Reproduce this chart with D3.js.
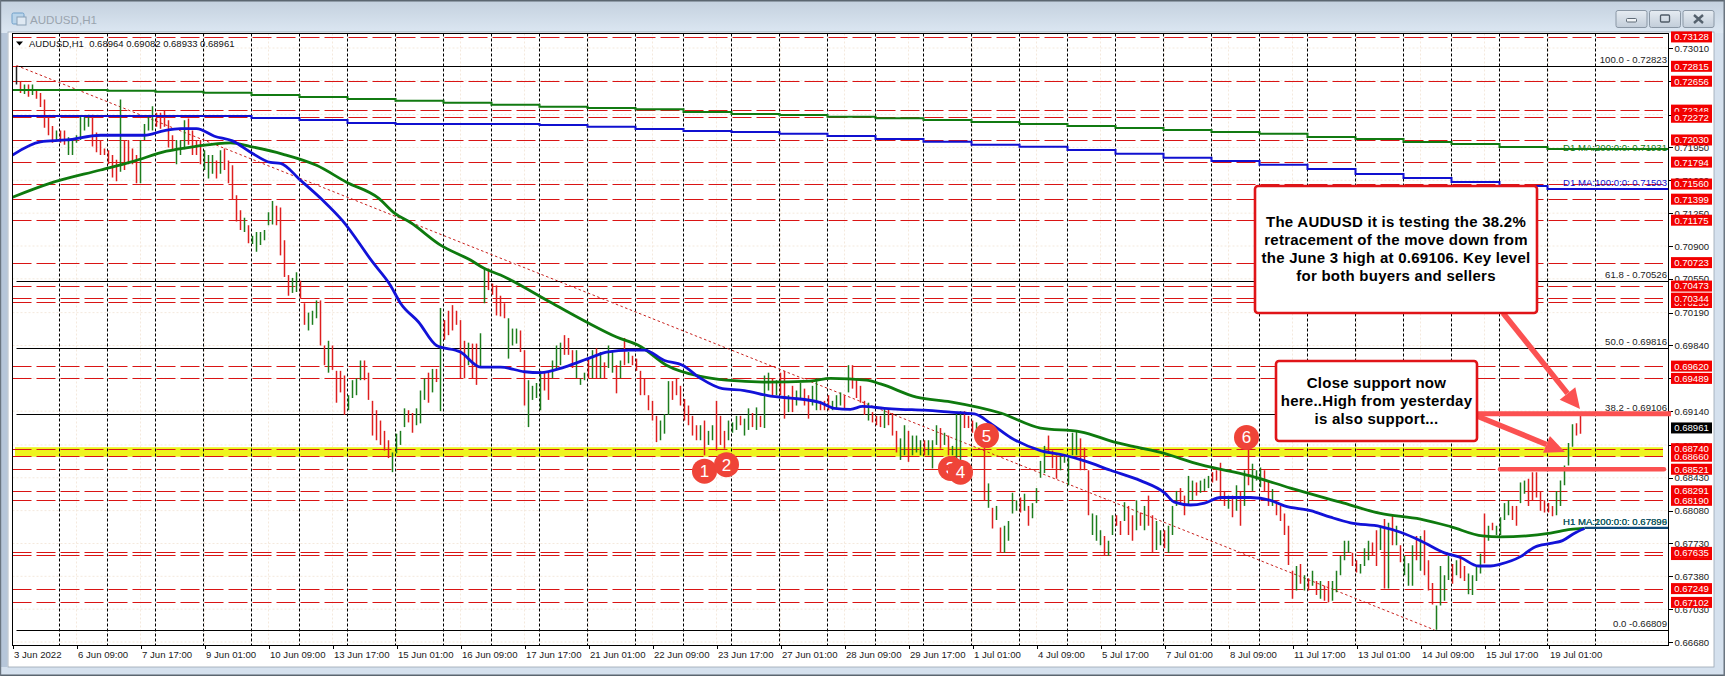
<!DOCTYPE html>
<html><head><meta charset="utf-8"><title>AUDUSD,H1</title>
<script src="https://cdn.jsdelivr.net/npm/d3@7/dist/d3.min.js"></script>
<style>
html,body{margin:0;padding:0;background:#d7e2ee;overflow:hidden}
svg{display:block}
text{font-family:"Liberation Sans",Arial,sans-serif}
.ax text{font-size:9.6px;fill:#1a1a1a;font-family:"Liberation Sans",Arial,sans-serif}
.ax line,.ax path{stroke:#000;shape-rendering:crispEdges}
</style></head><body>
<svg id="c" width="1725" height="676"></svg>
<script>
// ---- data: prices are written in units of 0.0001, bars are one every two hours ----
const barHighs=[
7281,7265,7262,7262,7262,7256,7253,7246,7229,7218,7213,7213,7213,7206,7205,7208,7229,7229,7230,7230,
7211,7203,7194,7192,7187,7182,7246,7203,7203,7194,7187,7203,7220,7229,7239,7232,7232,7234,7224,7208,
7203,7203,7224,7226,7213,7203,7203,7192,7187,7187,7181,7192,7194,7181,7176,7144,7128,7120,7112,7101,
7105,7105,7107,7126,7138,7133,7131,7096,7059,7056,7062,7053,7029,7019,7021,7032,7032,6984,6989,6984,
6957,6957,6952,6931,6947,6949,6968,6968,6955,6925,6915,6904,6893,6883,6870,6890,6893,6917,6915,6912,
6917,6936,6949,6955,6959,6959,7024,7011,7021,7027,7021,7011,6989,6987,6986,6986,6997,7067,7066,7050,
7048,7037,7029,7013,7002,7002,7000,6979,6947,6941,6944,6957,6955,6955,6968,6984,6987,6995,6992,6979,
6979,6949,6955,6970,6979,6981,6977,6966,6984,6977,6963,6968,6992,6977,6973,6970,6957,6949,6931,6925,
6909,6904,6911,6946,6946,6949,6941,6927,6920,6909,6899,6899,6904,6893,6899,6925,6909,6893,6904,6902,
6909,6909,6906,6917,6912,6918,6909,6952,6955,6949,6947,6955,6957,6931,6941,6936,6944,6938,6931,6941,
6949,6925,6925,6931,6925,6931,6934,6931,6963,6963,6949,6941,6925,6923,6913,6909,6909,6917,6917,6912,
6893,6885,6899,6893,6888,6888,6883,6883,6883,6883,6899,6896,6891,6888,6877,6912,6914,6914,6909,6904,
6902,6893,6875,6837,6811,6813,6790,6792,6797,6827,6819,6822,6826,6813,6816,6832,6861,6877,6888,6872,
6867,6867,6867,6867,6891,6893,6885,6875,6851,6805,6803,6787,6781,6776,6803,6803,6797,6817,6813,6803,
6819,6806,6813,6824,6803,6797,6787,6787,6792,6813,6829,6832,6824,6845,6840,6838,6840,6842,6845,6849,
6851,6859,6829,6824,6824,6835,6829,6851,6879,6858,6851,6854,6851,6840,6831,6819,6813,6805,6792,6744,
6749,6751,6739,6736,6744,6733,6733,6728,6733,6733,6744,6760,6776,6776,6763,6755,6751,6768,6776,6774,
6787,6792,6799,6795,6803,6792,6771,6760,6752,6771,6781,6781,6787,6755,6731,6707,6749,6739,6760,6751,
6755,6760,6749,6741,6739,6749,6762,6805,6792,6795,6792,6801,6816,6819,6813,6813,6838,6840,6842,6849,
6849,6829,6819,6816,6813,6829,6840,6856,6880,6900,6901,6909];
const barLows=[
7262,7253,7252,7249,7251,7247,7238,7216,7208,7200,7203,7200,7198,7187,7187,7200,7203,7213,7217,7196,
7190,7187,7187,7177,7163,7159,7169,7171,7177,7177,7157,7157,7203,7213,7213,7217,7215,7217,7195,7193,
7177,7187,7193,7198,7187,7187,7177,7171,7162,7167,7162,7167,7171,7157,7139,7116,7107,7105,7093,7092,
7084,7091,7096,7112,7113,7112,7080,7057,7037,7040,7041,7034,7006,7000,7006,7013,6984,6963,6955,6958,
6923,6934,6910,6915,6928,6931,6947,6947,6926,6888,6883,6878,6872,6864,6849,6869,6878,6897,6902,6891,
6899,6901,6926,6923,6934,6945,6914,6990,6995,7000,7006,6949,6949,6963,6949,6942,6961,7029,7043,7038,
7016,7015,7013,6970,6984,6986,6977,6920,6897,6926,6928,6915,6936,6926,6949,6958,6963,6974,6974,6960,
6949,6942,6947,6949,6949,6949,6949,6949,6960,6955,6933,6949,6963,6965,6963,6957,6931,6931,6915,6904,
6881,6883,6890,6910,6926,6931,6920,6904,6899,6888,6883,6883,6867,6878,6883,6872,6878,6874,6883,6891,
6894,6899,6888,6894,6897,6894,6897,6896,6936,6931,6931,6931,6906,6913,6913,6920,6928,6920,6906,6920,
6915,6915,6915,6915,6915,6917,6920,6917,6934,6938,6928,6923,6910,6904,6902,6899,6897,6896,6899,6888,
6870,6862,6867,6860,6867,6870,6867,6867,6867,6853,6878,6874,6878,6867,6867,6864,6856,6896,6896,6891,
6891,6878,6819,6811,6789,6798,6763,6763,6776,6805,6808,6806,6808,6792,6800,6816,6843,6848,6869,6853,
6842,6851,6859,6835,6867,6867,6851,6851,6803,6782,6776,6771,6760,6760,6782,6792,6782,6797,6782,6776,
6787,6792,6787,6792,6763,6766,6771,6768,6763,6782,6813,6815,6803,6813,6819,6824,6827,6829,6832,6838,
6840,6819,6813,6810,6801,6808,6792,6813,6835,6829,6840,6833,6829,6813,6813,6803,6797,6782,6750,6714,
6723,6730,6723,6723,6728,6718,6714,6712,6710,6712,6721,6739,6755,6763,6749,6742,6741,6749,6755,6760,
6749,6766,6725,6725,6771,6771,6753,6739,6728,6728,6755,6744,6739,6723,6708,6681,6707,6712,6734,6730,
6739,6736,6733,6719,6718,6733,6741,6752,6776,6787,6782,6782,6798,6803,6798,6792,6816,6826,6813,6819,
6822,6808,6806,6806,6802,6803,6813,6835,6856,6876,6888,6890];
// k = first bar, g = up bar, r = down bar
const barDirs=
"krgrgrrrrrgrrggggggr"+"rrrrrrgrrrrggggrrrrr"+"gggrrrrgggrgrrrrrgrg"+"gggggrrrrggrrgggrrgr"+
"rrrggggrrrrrrrggggrr"+"gggrgrgrrrrrrgrrggrr"+"rrrgggrrggggrrgggrrr"+"gggrgrgrggrgrgrrrrrr"+
"rgggrrrrrrrgrggrrrgg"+"grggrgrggrgrrgrggrrg"+"grrrgggrgrrrrgrrrgrr"+"rggrgggrgggrgrgggrrr"+
"grrgrgrggggrgrggggrr"+"rgggggrrrgggrggrrgrr"+"grgrrggrgggrrggrgggr"+"rrrgrgrgrgggrrgrrrrr"+
"grgrgrgrrgggggrrgggr"+"rgrgrgrgggrgrrrggggr"+"grrggggrgrggggrrggrr"+"rrrrrgggggrr";
const maHours=[0,19,44,60,77,91,109,119,135,152,167,183,191,199,214,229,236,244,269,287,302,314,327,344,357,377,399,409,427,434,452,469,494,514,534,551,574,594,619,639,664,684,704,719,735,744,769,779,786];
const ma200H1=[7142,7157,7171,7180,7191,7196,7200,7196,7188,7176,7158,7141,7125,7115,7091,7075,7066,7059,7030,7009,6993,6983,6963,6951,6947,6945,6946,6949,6947,6943,6929,6924,6912,6896,6892,6881,6870,6857,6845,6832,6817,6805,6799,6791,6781,6780,6784,6788,6789];
const ma100Hours=[0,14,27,44,59,66,76,84,92,101,110,119,129,134,144,155,165,180,189,194,203,212,224,234,244,256,264,276,289,297,309,316,326,335,344,355,366,379,389,404,411,419,425,436,444,456,469,481,489,499,514,526,536,549,564,576,581,589,596,604,619,629,636,649,659,669,684,694,704,716,724,733,739,744,754,761,769,775,781,786];
const ma100H1=[7187,7201,7203,7208,7208,7208,7213,7215,7215,7207,7202,7190,7179,7178,7160,7139,7117,7073,7048,7029,7009,6984,6977,6961,6961,6956,6955,6961,6971,6977,6979,6979,6968,6963,6949,6938,6936,6930,6928,6923,6917,6916,6919,6917,6916,6915,6913,6911,6901,6886,6872,6867,6861,6851,6840,6827,6817,6814,6816,6822,6822,6819,6813,6808,6801,6795,6791,6785,6776,6763,6758,6749,6749,6751,6759,6769,6773,6776,6784,6789];
const d1Hours=[0,23.5,47.5,71.5,95.5,119.5,143.5,167.5,191.5,215.5,239.5,263.5,287.5,311.5,335.5,359.5,383.5,407.5,431.5,455.5,479.5,503.5,527.5,551.5,575.5,599.5,623.5,647.5,671.5,695.5,719.5,743.5,767.5,828];
const d1Ma200=[7256.2,7256.2,7255.5,7254.4,7253.4,7250.9,7248.8,7246.7,7244.8,7242.7,7240.6,7238.4,7237,7235.7,7232.8,7230.7,7229.6,7227.8,7226.1,7224.3,7222.1,7220,7217.9,7215.8,7213.6,7211.5,7209.7,7206.2,7204,7200.8,7198.7,7195.5,7193.4,7193.4];
const d1Ma100=[7228.5,7228.5,7228.5,7228.5,7228.5,7226.4,7224.3,7221,7220,7220,7220,7218.9,7217.1,7214.7,7212.6,7211.5,7209.7,7207.2,7204,7201.2,7198,7195.8,7192.3,7188.4,7184.1,7180.6,7176.6,7172,7166.7,7162.5,7158.2,7154,7150.8,7150.8];
const levels=[0.73128,0.72815,0.72656,0.72348,0.72272,0.72030,0.71794,0.71560,0.71399,0.71175,0.70723,0.70298,0.70473,0.70344,0.69620,0.69489,0.68660,0.68740,0.68521,0.68291,0.68190,0.67612,0.67635,0.67249,0.67102];
const yellowBand=[0.68740,0.68660];
const fibLevels=[0.72823,0.70526,0.69816,0.69106,0.66809];
const fibLabels=["100.0 - 0.72823","61.8 - 0.70526","50.0 - 0.69816","38.2 - 0.69106","0.0 -0.66809"];
const yTicks=[0.73010,0.72660,0.72300,0.71950,0.71600,0.71250,0.70900,0.70550,0.70190,0.69840,0.69490,0.69140,0.68780,0.68430,0.68080,0.67730,0.67380,0.67030,0.66680];
const xLabels=["3 Jun 2022","6 Jun 09:00","7 Jun 17:00","9 Jun 01:00","10 Jun 09:00","13 Jun 17:00","15 Jun 01:00","16 Jun 09:00","17 Jun 17:00","21 Jun 01:00","22 Jun 09:00","23 Jun 17:00","27 Jun 01:00","28 Jun 09:00","29 Jun 17:00","1 Jul 01:00","4 Jul 09:00","5 Jul 17:00","7 Jul 01:00","8 Jul 09:00","11 Jul 17:00","13 Jul 01:00","14 Jul 09:00","15 Jul 17:00","19 Jul 01:00"];
const lastPrice=0.68961;
const trendHours=[2,711];
const trendPrices=[0.72823,0.66809];
const markerNames=["3","1","2","4","5","6"];
const markerHours=[469,346,357,474,487,617];
const markerPrices=[0.68530,0.68500,0.68570,0.68490,0.68880,0.68860];
const callout1=["The AUDUSD it is testing the 38.2%","retracement of the move down from","the June 3 high at 0.69106. Key level","for both buyers and sellers"];
const callout2=["Close support now","here..High from yesterday","is also support..."];
const legendText="AUDUSD,H1  0.68964 0.69082 0.68933 0.68961";

// ---- layout ----
const svg=d3.select("#c");
const L=12.5,R=1668.5,T=33.5,B=645.5;
const x=d3.scaleLinear().domain([0,828]).range([L,R]);
const y=d3.scaleLinear().domain([0.7301,0.6668]).range([48,642]);

// window chrome
const defs=svg.append("defs");
const g1=defs.append("linearGradient").attr("id","tb").attr("x1",0).attr("x2",0).attr("y1",0).attr("y2",1);
g1.append("stop").attr("offset",0).attr("stop-color","#c3d0de");
g1.append("stop").attr("offset",1).attr("stop-color","#dce7f2");
const g2=defs.append("linearGradient").attr("id","bt").attr("x1",0).attr("x2",0).attr("y1",0).attr("y2",1);
g2.append("stop").attr("offset",0).attr("stop-color","#e6ecf2");
g2.append("stop").attr("offset",1).attr("stop-color","#c2cdd9");
const clip=defs.append("clipPath").attr("id","plot");
clip.append("rect").attr("x",L).attr("y",T).attr("width",R-L).attr("height",B-T);
svg.append("rect").attr("width",1725).attr("height",676).attr("fill","#d5e1ee");
svg.append("rect").attr("width",1725).attr("height",33).attr("fill","url(#tb)");
svg.append("rect").attr("x",0).attr("y",33).attr("width",7).attr("height",634).attr("fill","#b6c6d9");
svg.append("rect").attr("x",0).attr("y",0).attr("width",1725).attr("height",1.5).attr("fill","#5b6670");
svg.append("rect").attr("x",0).attr("y",674.5).attr("width",1725).attr("height",1.5).attr("fill","#5b6670");
svg.append("rect").attr("x",1723.5).attr("y",0).attr("width",1.5).attr("height",676).attr("fill","#6a7580");
svg.append("rect").attr("x",0).attr("y",0).attr("width",1.2).attr("height",676).attr("fill","#6a7580");
svg.append("rect").attr("x",8).attr("y",32).attr("width",1706).attr("height",635).attr("fill","#fff").attr("stroke","#9aa6b2").attr("stroke-width",.8);
// title bar
const ic=svg.append("g");
ic.append("rect").attr("x",12).attr("y",13).attr("width",12).attr("height",11).attr("rx",1.5).attr("fill","#b9d4ea").attr("stroke","#6f9fc9");
ic.append("rect").attr("x",17).attr("y",17).attr("width",9).attr("height",8).attr("fill","#dfe9f3").attr("stroke","#8aa0b5");
svg.append("text").attr("x",30).attr("y",23.5).attr("font-size",11.6).attr("fill","#9aa4ae").text("AUDUSD,H1");
[1616,1649.5,1683].forEach((bx,i)=>{
  svg.append("rect").attr("x",bx).attr("y",10.5).attr("width",31).attr("height",17).attr("rx",2).attr("fill","url(#bt)").attr("stroke","#8a97a5");
  const cx=bx+15.5;
  if(i===0) svg.append("rect").attr("x",cx-5).attr("y",18.5).attr("width",10).attr("height",3.5).attr("rx",1).attr("fill","#f2f5f8").attr("stroke","#5f6b77");
  if(i===1) svg.append("rect").attr("x",cx-4.5).attr("y",15).attr("width",9).attr("height",7).attr("rx",1).attr("fill","none").attr("stroke","#4f5b67").attr("stroke-width",1.3);
  if(i===2) svg.append("path").attr("d",`M${cx-4.5},15L${cx+4.5},23M${cx+4.5},15L${cx-4.5},23`).attr("stroke","#55616d").attr("stroke-width",2.4);
});

// plot content
const plot=svg.append("g").attr("clip-path","url(#plot)");
// pale grid
yTicks.forEach(v=>plot.append("line").attr("x1",L).attr("x2",R).attr("y1",y(v)).attr("y2",y(v)).attr("stroke","#f4e9dd").attr("stroke-dasharray","2,2"));
xLabels.forEach((_,i)=>plot.append("line").attr("x1",x(32*i)).attr("x2",x(32*i)).attr("y1",T).attr("y2",B).attr("stroke","#f4e9dd").attr("stroke-dasharray","2,2"));
// yellow band
plot.append("rect").attr("x",15).attr("width",1663-15).attr("y",y(yellowBand[0])-1.5).attr("height",y(yellowBand[1])-y(yellowBand[0])+2).attr("fill","#eef41e");
// level lines
plot.selectAll("line.lv").data(levels).join("line").attr("class","lv")
  .attr("x1",L).attr("x2",1663).attr("y1",d=>Math.round(y(d))+.5).attr("y2",d=>Math.round(y(d))+.5)
  .attr("stroke","#d91414").attr("stroke-width",1.1).attr("stroke-dasharray","19,5");
// fibonacci lines
plot.selectAll("line.fb").data(fibLevels).join("line").attr("class","fb")
  .attr("x1",x(trendHours[0])).attr("x2",R).attr("y1",d=>Math.round(y(d))+.5).attr("y2",d=>Math.round(y(d))+.5)
  .attr("stroke","#000").attr("stroke-width",1);
// vertical grid
d3.range(33).forEach(k=>{const h=23.5+24*k;
  plot.append("line").attr("x1",x(h)).attr("x2",x(h)).attr("y1",T).attr("y2",B).attr("stroke","#000").attr("stroke-dasharray","3,2");});
// trend line
plot.append("line").attr("x1",x(trendHours[0])).attr("y1",y(trendPrices[0])).attr("x2",x(trendHours[1])).attr("y2",y(trendPrices[1]))
  .attr("stroke","#c8201c").attr("stroke-width",1).attr("stroke-dasharray","2.5,2.5");
// bars
const barColor={g:"#1d7d1d",r:"#de1f1f",k:"#222"};
plot.selectAll("line.bar").data(barHighs).join("line").attr("class","bar")
  .attr("x1",(d,i)=>x(2+2*i)).attr("x2",(d,i)=>x(2+2*i))
  .attr("y1",d=>y(d/1e4)).attr("y2",(d,i)=>y(barLows[i]/1e4))
  .attr("stroke",(d,i)=>barColor[barDirs[i]]).attr("stroke-width",1.5);
// moving averages
const pathH=(hs,vs,curve)=>d3.line().x((d,i)=>x(hs[i])).y(d=>y(d/1e4)).curve(curve||d3.curveLinear)(vs);
plot.append("path").attr("d",pathH(d1Hours,d1Ma200,d3.curveStepAfter)).attr("fill","none").attr("stroke","#117a11").attr("stroke-width",2);
plot.append("path").attr("d",pathH(d1Hours,d1Ma100,d3.curveStepAfter)).attr("fill","none").attr("stroke","#1010d0").attr("stroke-width",2);
plot.append("path").attr("d",pathH(maHours,ma200H1,d3.curveMonotoneX)).attr("fill","none").attr("stroke","#0e7a0e").attr("stroke-width",2.8);
plot.append("path").attr("d",pathH(ma100Hours,ma100H1,d3.curveMonotoneX)).attr("fill","none").attr("stroke","#1212d8").attr("stroke-width",2.8);
plot.append("line").attr("x1",x(786)).attr("x2",R).attr("y1",y(0.67896)).attr("y2",y(0.67896)).attr("stroke","#0f4a78").attr("stroke-width",2.2);
// fib and MA texts
plot.selectAll("text.ft").data(fibLevels).join("text").attr("class","ft")
  .attr("x",1667).attr("text-anchor","end").attr("y",d=>y(d)-3).attr("font-size",9.6).attr("fill","#222").text((d,i)=>fibLabels[i]);
const maLabel=(t,px,color)=>plot.append("text").attr("x",1667).attr("y",y(px)+3.4).attr("text-anchor","end").attr("font-size",9.6).attr("fill",color).text(t);
maLabel("D1 MA:200:0:0: 0.71931",0.71953,"#117a11");
maLabel("D1 MA:100:0:0: 0.71503",0.71579,"#1010d0");
maLabel("H1 MA:200:0:0: 0.67899",0.67960,"#117a11");
maLabel("H1 MA:100:0:0: 0.67896",0.67960,"#0f4a78");
// legend
plot.append("path").attr("d","M16,41.5h7l-3.5,4z").attr("fill","#000");
plot.append("text").attr("x",29).attr("y",47).attr("font-size",9.5).style("white-space","pre").attr("fill","#111").text(legendText);

// frame and axes
svg.append("rect").attr("x",L).attr("y",T).attr("width",R-L).attr("height",B-T).attr("fill","none").attr("stroke","#000");
const ya=svg.append("g").attr("class","ax").attr("transform",`translate(${R},0)`)
  .call(d3.axisRight(y).tickValues(yTicks).tickFormat(d3.format(".5f")).tickSize(4).tickPadding(2));
ya.select(".domain").remove();
const xa=svg.append("g").attr("class","ax").attr("transform",`translate(0,${B})`)
  .call(d3.axisBottom(x).tickValues(xLabels.map((_,i)=>32*i)).tickFormat((d,i)=>xLabels[i]).tickSize(3).tickPadding(3));
xa.select(".domain").remove();
xa.selectAll("text").attr("text-anchor","start").attr("dx",1);

// price tags
const tags=svg.append("g");
levels.forEach(v=>{
  tags.append("rect").attr("x",1671).attr("y",y(v)-5.5).attr("width",41).attr("height",11).attr("fill","#f20000");
  tags.append("text").attr("x",1691.5).attr("y",y(v)+3.4).attr("text-anchor","middle").attr("font-size",9.6).attr("fill","#fff").text(d3.format(".5f")(v));
});
tags.append("rect").attr("x",1671).attr("y",y(lastPrice)-5.5).attr("width",41).attr("height",11).attr("fill","#000");
tags.append("text").attr("x",1691.5).attr("y",y(lastPrice)+3.4).attr("text-anchor","middle").attr("font-size",9.6).attr("fill","#fff").text(d3.format(".5f")(lastPrice));

// numbered markers
const mk=svg.append("g");
markerNames.forEach((n,i)=>{
  mk.append("circle").attr("cx",x(markerHours[i])).attr("cy",y(markerPrices[i])).attr("r",12.5).attr("fill","#ef4438");
  mk.append("text").attr("x",x(markerHours[i])).attr("y",y(markerPrices[i])+6).attr("text-anchor","middle").attr("font-size",17).attr("fill","#fff").text(n);
});

// arrows and callouts
const salmon="#fb5151";
const ann=svg.append("g");
function arrow(x1,y1,x2,y2,w,hl,hw){
  const a=Math.atan2(y2-y1,x2-x1),bx=x2-hl*Math.cos(a),by=y2-hl*Math.sin(a),nx=-Math.sin(a),ny=Math.cos(a);
  ann.append("line").attr("x1",x1).attr("y1",y1).attr("x2",bx).attr("y2",by).attr("stroke",salmon).attr("stroke-width",w);
  ann.append("polygon").attr("points",[[x2,y2],[bx+nx*hw,by+ny*hw],[bx-nx*hw,by-ny*hw]].map(p=>p.join(",")).join(" ")).attr("fill",salmon);
}
ann.append("line").attr("x1",1477).attr("x2",1671).attr("y1",y(0.69106)-.5).attr("y2",y(0.69106)-.5).attr("stroke",salmon).attr("stroke-width",5);
ann.append("line").attr("x1",1500).attr("x2",1664).attr("y1",y(0.68521)).attr("y2",y(0.68521)).attr("stroke",salmon).attr("stroke-width",4.5).attr("stroke-linecap","round");
arrow(1503,313,1580,409,5.5,20,10);
arrow(1477,416,1565,452,5.5,20,9);
function box(x0,y0,x1,y1,lines,firstY){
  ann.append("rect").attr("x",x0).attr("y",y0).attr("width",x1-x0).attr("height",y1-y0).attr("rx",3).attr("fill","#fff").attr("stroke","#e01418").attr("stroke-width",2.6);
  lines.forEach((t,i)=>ann.append("text").attr("x",(x0+x1)/2).attr("y",firstY+18*i).attr("text-anchor","middle").attr("font-size",15).attr("letter-spacing",".26").attr("font-weight","bold").attr("fill","#000").text(t));
}
box(1255,186,1537,313,callout1,227);
box(1276,361,1477,441,callout2,388);
</script></body></html>
